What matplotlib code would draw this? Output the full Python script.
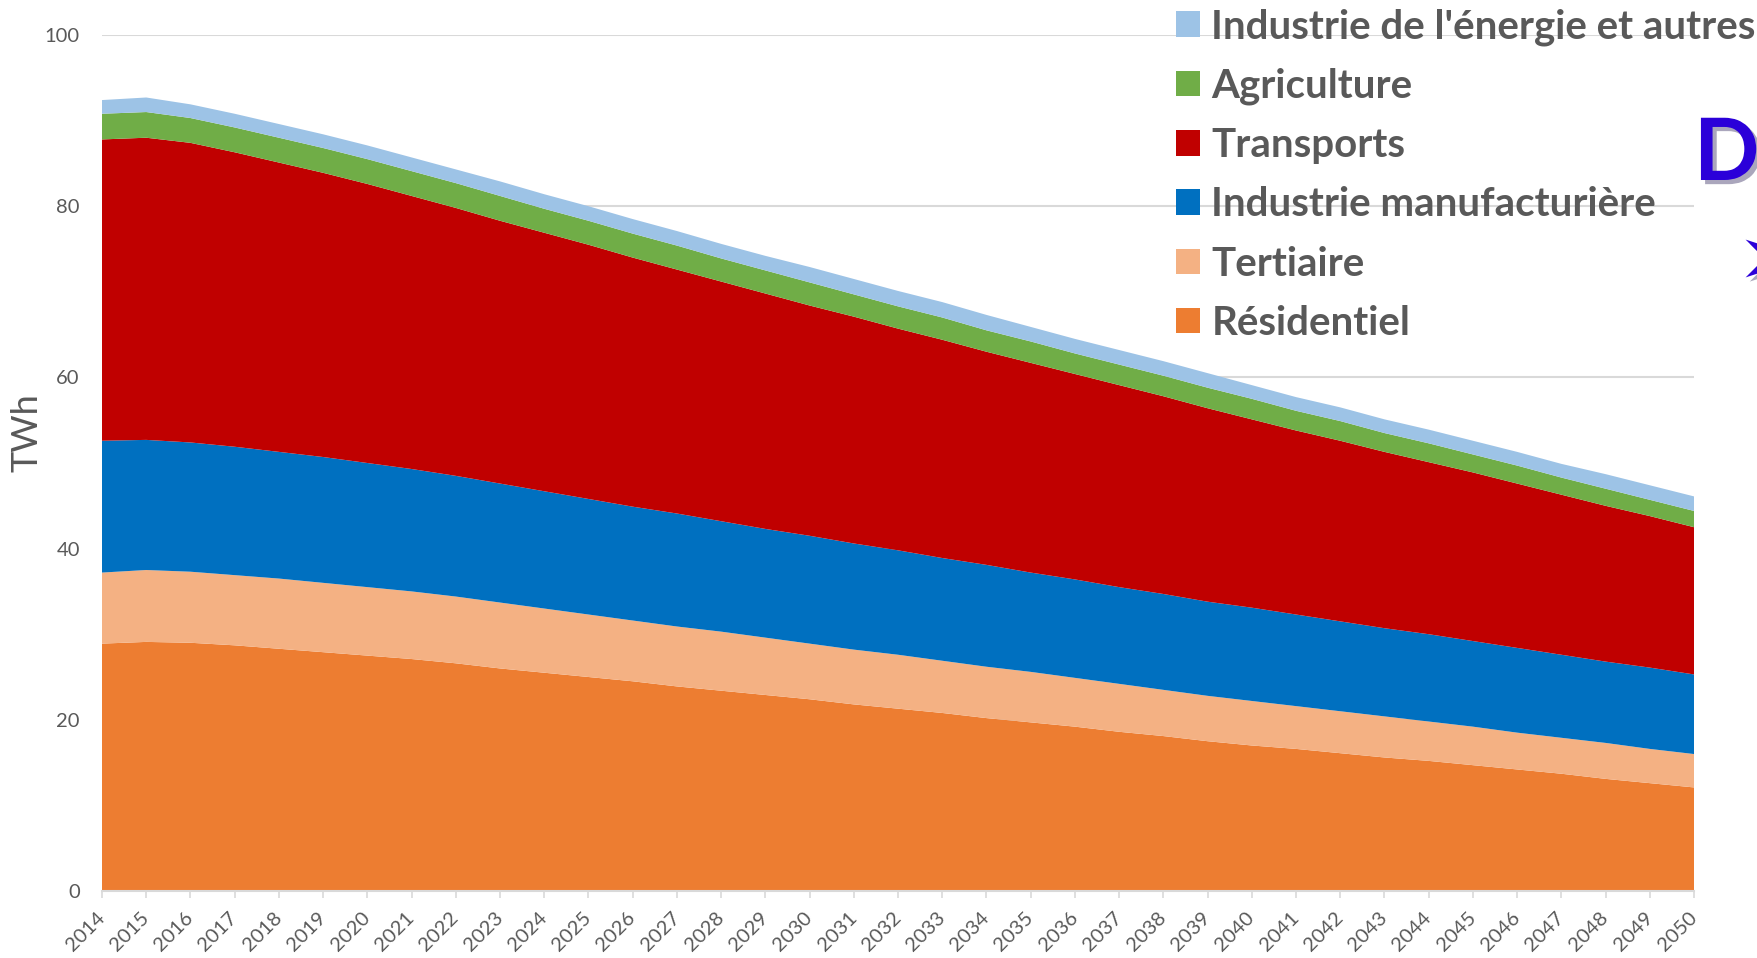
import matplotlib.pyplot as plt
from matplotlib import patheffects

plt.rcParams['font.family'] = ['Lato', 'DejaVu Sans']

# Consommation par secteur (TWh)
annees = list(range(2014, 2051))
residentiel = [28.9, 29.1, 29.0, 28.7, 28.3, 27.9, 27.5, 27.1, 26.6, 26.0, 25.5, 25.0, 24.5,
               23.9, 23.4, 22.9, 22.4, 21.8, 21.3, 20.8, 20.2, 19.7, 19.2, 18.6, 18.1, 17.5,
               17.0, 16.6, 16.1, 15.6, 15.2, 14.7, 14.2, 13.7, 13.1, 12.6, 12.1]
tertiaire = [8.3, 8.4, 8.3, 8.2, 8.2, 8.1, 8.0, 7.9, 7.8, 7.7, 7.5, 7.3, 7.1, 7.0, 6.9, 6.7,
             6.5, 6.4, 6.3, 6.1, 6.0, 5.9, 5.7, 5.6, 5.4, 5.3, 5.2, 5.0, 4.9, 4.8, 4.6, 4.5,
             4.3, 4.2, 4.2, 4.0, 3.9]
industrie = [15.4, 15.2, 15.1, 15.0, 14.8, 14.7, 14.5, 14.3, 14.1, 13.9, 13.7, 13.5, 13.3,
             13.2, 12.9, 12.7, 12.6, 12.4, 12.2, 12.0, 11.9, 11.6, 11.5, 11.3, 11.2, 11.0,
             10.9, 10.7, 10.5, 10.3, 10.2, 10.0, 9.9, 9.7, 9.5, 9.5, 9.3]
transports = [35.2, 35.3, 35.0, 34.4, 33.8, 33.2, 32.6, 31.9, 31.3, 30.7, 30.2, 29.7, 29.1,
              28.5, 28.0, 27.5, 26.9, 26.5, 25.9, 25.5, 24.9, 24.5, 24.0, 23.6, 23.1, 22.6,
              22.0, 21.5, 21.1, 20.6, 20.1, 19.7, 19.2, 18.7, 18.2, 17.7, 17.2]
agriculture = [3.0, 3.0, 2.9, 2.9, 2.9, 2.9, 2.9, 2.9, 2.9, 2.9, 2.8, 2.8, 2.8, 2.8, 2.7,
               2.7, 2.7, 2.6, 2.6, 2.6, 2.5, 2.5, 2.4, 2.4, 2.4, 2.4, 2.4, 2.3, 2.3, 2.2,
               2.2, 2.1, 2.1, 2.0, 2.0, 1.9, 1.9]
energie = [1.6, 1.7, 1.6, 1.6, 1.6, 1.6, 1.6, 1.6, 1.6, 1.7, 1.7, 1.7, 1.7, 1.7, 1.7, 1.7,
           1.8, 1.8, 1.8, 1.8, 1.8, 1.7, 1.7, 1.7, 1.7, 1.7, 1.6, 1.6, 1.6, 1.6, 1.6, 1.6,
           1.6, 1.6, 1.7, 1.7, 1.7]

series = [residentiel, tertiaire, industrie, transports, agriculture, energie]
noms = ['Résidentiel', 'Tertiaire', 'Industrie manufacturière', 'Transports',
        'Agriculture', "Industrie de l'énergie et autres"]
couleurs = ['#ED7D31', '#F4B183', '#0070C0', '#C00000', '#70AD47', '#9DC3E6']
gris = '#595959'

fig = plt.figure(figsize=(17.57, 9.58), dpi=100)
ax = fig.add_axes([102 / 1757, 1 - 891 / 958, (1694 - 102) / 1757, (891 - 35) / 958])

polys = ax.stackplot(annees, *series, colors=couleurs, labels=noms, linewidth=0)

ax.set_xlim(2014, 2050)
ax.set_ylim(0, 100)
ax.set_yticks([0, 20, 40, 60, 80, 100])
ax.set_xticks(annees)
ax.set_xticklabels([str(a) for a in annees], rotation=45, ha='right', va='center',
                   rotation_mode='anchor')
ax.yaxis.grid(True, color='#d9d9d9', linewidth=1.5)
ax.set_axisbelow(True)
for s in ['left', 'right', 'top']:
    ax.spines[s].set_visible(False)
ax.spines['bottom'].set_color('#d9d9d9')
ax.spines['bottom'].set_linewidth(1.5)
ax.tick_params(axis='y', length=0, pad=16, labelsize=14.5, labelcolor=gris)
ax.tick_params(axis='x', length=5, width=1.2, color='#d9d9d9', pad=12, labelsize=14.5,
               labelcolor=gris)
ax.set_ylabel('TWh', fontsize=26, color=gris)
ax.yaxis.set_label_coords(-0.037, 0.535)

# légende en haut à droite, ordre inversé
leg = fig.legend(polys[::-1], noms[::-1], loc='upper left',
                 bbox_to_anchor=(1176 / 1757, 1 - 8 / 958), frameon=False,
                 prop={'weight': 'bold', 'size': 29}, labelcolor=gris,
                 handlelength=0.6, handleheight=0.6, handletextpad=0.28,
                 labelspacing=0.55, borderpad=0, borderaxespad=0)

# éléments coupés au bord droit
ombre = [patheffects.SimplePatchShadow(offset=(3, -3), alpha=0.35), patheffects.Normal()]
fig.text(1694 / 1757, 1 - 180 / 958, 'D', fontsize=62, fontweight='bold', color='#2B00D9',
         ha='left', va='baseline', path_effects=ombre)
fig.text(1736 / 1757, 1 - 262 / 958, '➢', fontsize=62, color='#2B00D9',
         family=['DejaVu Sans'], ha='left', va='center', path_effects=ombre)

plt.savefig('out.png', dpi=100)
